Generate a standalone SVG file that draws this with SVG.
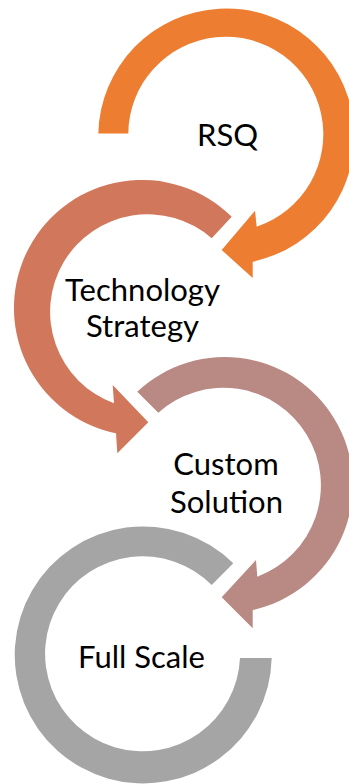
<svg xmlns="http://www.w3.org/2000/svg" width="349" height="784" viewBox="0 0 349 784">
  <style>
    .lbl { font-family: Lato, "Open Sans", "Liberation Sans", sans-serif; font-size: 31px; fill: #000000; text-anchor: middle; }
    .s1 { fill: #ED7D31; }
    .s2 { fill: #D1785C; }
    .s3 { fill: #B98A83; }
    .s4 { fill: #A5A5A5; }
  </style>
  <rect width="349" height="784" fill="#FFFFFF"/>

  <!-- step 1: ring opens at 9 o'clock, arrowhead at lower right -->
  <g id="step-rsq">
    <path class="s1" d="M 98.3 133.5 A 128 128 0 1 1 252.7 261.7 L 252.7 278 L 221.7 250 L 255 210.7 L 256.7 226.7 A 97.5 97.5 0 1 0 128.3 133.5 Z"/>
    <text class="lbl" x="227.5" y="145.5">RSQ</text>
  </g>

  <!-- step 2: counter-clockwise ring, arrowhead at the bottom -->
  <g id="step-technology-strategy">
    <path class="s2" d="M 231.7 216.7 A 128 128 0 1 0 116 433.3 L 117.3 453.3 L 148.3 422.3 L 112.7 385 L 114 403.3 A 97.5 97.5 0 1 1 211.7 238.3 Z"/>
    <text class="lbl" x="142.5" y="300.7">Technology</text>
    <text class="lbl" x="142.5" y="337.3">Strategy</text>
  </g>

  <!-- step 3: clockwise ring, arrowhead at lower right -->
  <g id="step-custom-solution">
    <path class="s3" d="M 137.3 391.7 A 128 128 0 1 1 252.7 610 L 252.7 628.3 L 221.7 597.3 L 256 560 L 257.3 576.7 A 97.5 97.5 0 1 0 158.3 412.7 Z"/>
    <text class="lbl" x="226" y="475">Custom</text>
    <text class="lbl" x="226.5" y="512.7">Solution</text>
  </g>

  <!-- step 4: final ring, no arrowhead -->
  <g id="step-full-scale">
    <path class="s4" d="M 271.7 658 A 128.5 128.5 0 1 1 233.3 563.3 L 211.7 585 A 97.5 97.5 0 1 0 240 658 Z"/>
    <text class="lbl" x="141.5" y="668.3">Full Scale</text>
  </g>
</svg>
